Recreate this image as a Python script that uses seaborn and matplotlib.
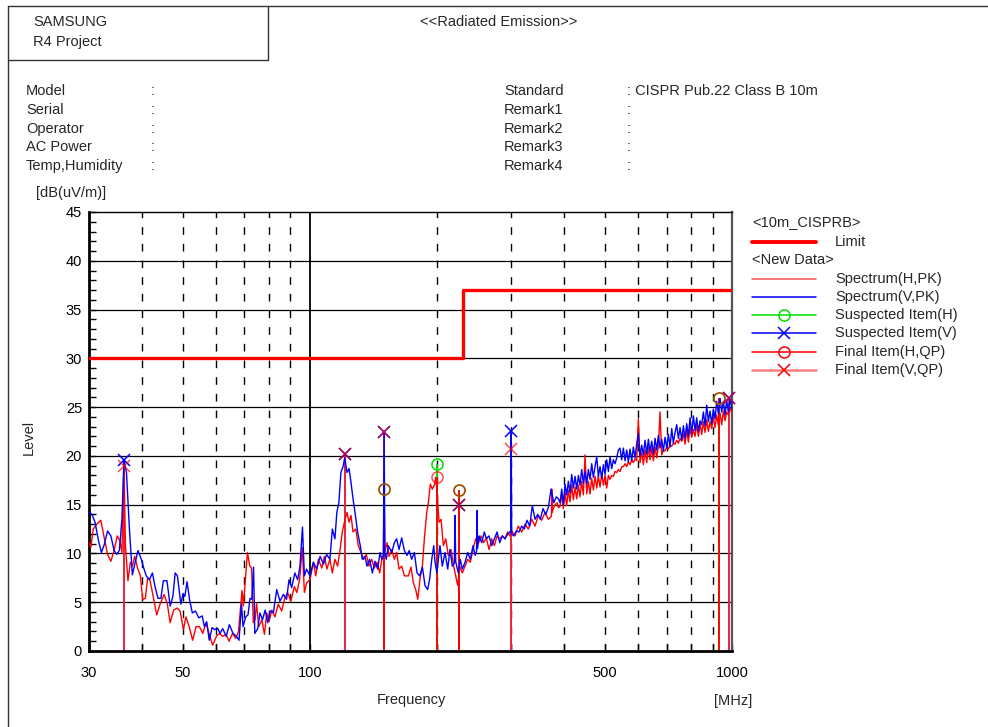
import matplotlib
matplotlib.use("Agg")
import matplotlib.pyplot as plt
from matplotlib.lines import Line2D
from matplotlib.ticker import FixedLocator, FixedFormatter, MultipleLocator, NullFormatter
import pandas as pd
import seaborn as sns

# ---------------- data ----------------
# low band (30-390 MHz) spectrum, vertical polarisation (blue)
v_lo_freq = [30.0, 30.5, 31.0, 31.6, 32.1, 32.6, 33.2, 33.8, 34.4, 34.9,
             35.4, 35.9, 36.3, 36.8, 37.4, 38.0, 38.6, 39.2, 39.9, 40.5,
             41.0, 41.7, 42.4, 43.0, 43.7, 44.4, 45.0, 45.9, 46.7, 47.4,
             48.0, 48.6, 49.5, 50.1, 50.6, 51.2, 51.9, 52.7, 53.6, 54.6,
             55.6, 56.3, 57.0, 57.8, 58.7, 59.5, 60.6, 61.3, 62.2, 63.4,
             64.5, 65.8, 67.0, 68.0, 68.9, 69.5, 70.5, 71.4, 72.2, 72.9,
             73.6, 74.1, 75.3, 76.2, 77.3, 78.4, 79.5, 80.5, 82.0, 83.5,
             85.0, 86.6, 88.1, 89.3, 90.6, 92.2, 93.6, 94.8, 96.1, 97.1,
             98.3, 100.1, 102.0, 103.8, 105.8, 107.8, 109.6, 111.6, 113.1, 114.7,
             115.9, 117.2, 118.5, 119.9, 121.0, 122.5, 123.9, 125.2, 126.6, 128.0,
             129.8, 131.7, 133.2, 135.1, 136.6, 138.6, 140.7, 142.7, 144.8, 146.7,
             148.1, 149.4, 150.0, 150.6, 151.8, 153.5, 156.4, 158.6, 160.6, 162.7,
             165.1, 167.5, 170.0, 172.0, 174.3, 176.9, 179.5, 182.1, 184.8, 187.5,
             190.2, 192.3, 194.5, 196.6, 198.0, 200.0, 201.6, 203.4, 206.0, 209.1,
             212.2, 214.8, 217.6, 220.0, 220.8, 221.6, 222.8, 224.8, 227.2, 229.7,
             233.2, 236.7, 240.0, 243.6, 246.3, 248.3, 249.0, 249.7, 251.7, 255.4,
             259.1, 261.9, 265.8, 269.7, 273.6, 277.7, 281.8, 285.8, 290.0, 294.3,
             299.3, 300.0, 300.7, 304.1, 308.5, 313.0, 317.6, 322.2, 327.0, 331.8,
             336.6, 341.6, 346.6, 351.6, 356.8, 362.1, 367.3, 372.8, 378.3, 383.7,
             388.0]
v_lo_level = [14.2, 14.0, 13.2, 11.3, 10.1, 10.9, 12.3, 11.8, 10.3, 9.9,
              10.3, 13.5, 19.6, 18.3, 12.5, 7.8, 9.1, 10.3, 9.4, 8.4,
              7.7, 7.3, 8.0, 6.6, 5.4, 5.4, 7.2, 7.2, 4.6, 5.6,
              8.0, 7.7, 4.8, 5.9, 5.6, 7.1, 5.3, 3.9, 4.1, 3.4,
              3.6, 2.5, 3.0, 1.1, 2.4, 2.2, 2.3, 1.8, 2.3, 1.5,
              2.7, 1.8, 1.5, 1.1, 4.8, 2.5, 3.5, 3.7, 5.4, 5.3,
              8.6, 1.8, 2.3, 3.9, 3.2, 4.2, 2.9, 4.1, 3.9, 6.3,
              5.1, 5.8, 5.3, 7.3, 6.5, 8.0, 7.3, 8.7, 12.7, 7.7,
              8.4, 7.7, 9.1, 8.4, 9.7, 8.9, 9.9, 9.4, 12.5, 11.5,
              14.2, 15.2, 18.3, 18.9, 19.8, 18.3, 18.7, 17.3, 15.6, 14.2,
              12.2, 10.8, 9.4, 9.7, 8.7, 9.4, 8.0, 9.2, 8.4, 10.1,
              9.4, 9.8, 22.5, 10.0, 9.4, 10.8, 10.1, 11.1, 11.5, 10.4,
              11.6, 10.3, 9.8, 10.3, 9.4, 10.1, 8.0, 7.7, 8.6, 6.7,
              6.3, 7.4, 9.4, 10.8, 9.1, 8.0, 9.4, 10.8, 8.7, 10.1,
              8.4, 10.4, 8.7, 9.0, 13.9, 9.2, 8.7, 8.0, 9.4, 8.4,
              9.1, 10.1, 9.4, 10.8, 9.8, 10.2, 14.4, 10.5, 11.8, 11.1,
              12.2, 11.5, 11.8, 10.8, 11.5, 12.2, 11.1, 11.8, 11.5, 12.0,
              12.3, 22.6, 12.0, 11.8, 12.3, 12.2, 12.8, 12.5, 13.4, 12.8,
              14.9, 13.5, 14.0, 13.5, 14.6, 14.0, 14.7, 16.6, 15.2, 15.8,
              15.6]

# low band spectrum, horizontal polarisation (red)
h_lo_freq = [30.0, 30.3, 30.7, 31.3, 32.0, 32.6, 33.2, 33.8, 34.4, 35.0,
             35.5, 35.9, 36.3, 36.6, 37.1, 37.6, 38.0, 38.5, 39.1, 39.7,
             40.2, 40.8, 41.3, 41.8, 42.4, 43.4, 44.2, 45.2, 46.0, 46.7,
             47.6, 48.5, 49.3, 50.2, 50.9, 51.8, 52.8, 53.8, 54.8, 55.8,
             56.8, 57.8, 58.9, 60.1, 61.1, 62.2, 63.3, 64.4, 65.6, 66.8,
             67.8, 69.1, 69.6, 70.5, 71.2, 72.1, 72.8, 73.5, 74.2, 74.8,
             75.7, 77.0, 78.1, 79.1, 80.1, 81.3, 82.7, 84.2, 85.8, 87.1,
             88.6, 90.2, 91.9, 93.2, 94.6, 96.0, 97.1, 98.3, 100.1, 102.0,
             103.3, 104.8, 106.8, 108.3, 109.8, 111.6, 113.1, 114.7, 116.4, 117.9,
             119.4, 121.2, 122.5, 123.9, 125.2, 126.6, 128.5, 130.3, 132.2, 134.1,
             136.1, 138.1, 140.2, 142.2, 144.3, 146.4, 148.1, 149.4, 150.0, 150.6,
             152.4, 154.1, 156.4, 158.6, 160.6, 162.7, 165.1, 167.5, 171.2, 173.7,
             175.9, 178.2, 180.2, 182.4, 184.8, 186.8, 189.2, 190.9, 193.0, 195.1,
             197.3, 198.8, 200.5, 202.4, 204.6, 207.2, 209.9, 212.9, 216.0, 219.2,
             221.7, 224.1, 226.5, 229.7, 233.2, 236.7, 240.0, 243.6, 247.1, 250.7,
             254.5, 258.2, 261.9, 265.8, 269.7, 273.6, 277.7, 281.8, 285.8, 290.0,
             294.3, 297.5, 300.8, 306.3, 311.8, 317.6, 323.4, 329.4, 335.5, 341.6,
             347.8, 354.1, 360.8, 367.3, 373.5, 374.2, 374.9, 379.8, 385.2, 388.0]
h_lo_level = [11.1, 10.6, 12.5, 13.0, 13.4, 11.6, 9.9, 9.2, 10.3, 11.8,
              11.3, 10.1, 19.0, 10.8, 7.2, 9.1, 8.7, 9.7, 8.5, 7.7,
              5.3, 5.4, 7.5, 7.3, 6.0, 3.7, 4.8, 5.8, 4.8, 2.9,
              4.2, 4.4, 4.1, 2.2, 3.5, 2.5, 1.1, 2.5, 2.5, 1.8,
              2.9, 1.7, 0.6, 1.5, 1.8, 1.5, 1.7, 1.0, 1.8, 1.3,
              2.0, 6.2, 4.6, 7.7, 10.1, 8.7, 8.5, 2.9, 3.2, 4.9,
              2.5, 3.2, 1.7, 3.9, 3.0, 4.2, 3.5, 4.8, 4.1, 5.3,
              6.0, 5.1, 6.6, 6.0, 7.3, 10.6, 6.0, 7.0, 7.3, 9.1,
              7.7, 9.4, 8.5, 9.7, 8.4, 9.4, 8.0, 9.4, 8.7, 10.3,
              12.2, 13.5, 14.2, 13.2, 13.9, 12.2, 12.5, 10.8, 10.1, 9.4,
              9.9, 8.7, 9.4, 8.5, 9.1, 8.0, 9.4, 9.6, 16.6, 10.2,
              11.1, 9.7, 10.4, 9.4, 10.1, 8.4, 8.7, 7.7, 7.7, 8.6,
              7.0, 6.3, 5.3, 7.4, 8.7, 11.5, 14.2, 15.2, 17.1, 16.6,
              17.0, 17.8, 15.9, 13.2, 13.5, 10.8, 11.5, 9.8, 10.4, 8.7,
              7.7, 6.7, 8.7, 8.0, 8.7, 9.4, 9.1, 10.4, 11.5, 11.0,
              11.8, 11.1, 11.6, 10.4, 11.5, 10.8, 11.8, 11.5, 11.8, 11.5,
              12.2, 11.8, 12.3, 11.8, 12.8, 12.2, 13.0, 12.5, 13.5, 12.8,
              13.9, 13.4, 14.2, 13.5, 13.8, 16.6, 14.2, 14.9, 15.2, 14.7]

# high band (390-1000 MHz), common sweep points
hi_freq = [391.5, 395.1, 398.7, 402.3, 406.0, 409.7, 413.4, 417.2, 421.0, 424.9,
           428.7, 432.7, 436.6, 440.6, 444.6, 448.7, 452.8, 456.9, 461.1, 465.3,
           469.5, 473.8, 478.2, 482.5, 486.9, 491.4, 495.9, 500.4, 505.0, 509.6,
           514.2, 518.9, 523.7, 528.5, 533.3, 538.1, 543.0, 548.0, 553.0, 558.1,
           563.1, 568.3, 573.5, 578.7, 584.0, 589.3, 594.7, 600.1, 605.6, 611.2,
           616.7, 622.4, 628.1, 633.8, 639.6, 645.4, 651.3, 657.3, 663.3, 669.3,
           675.4, 681.6, 687.8, 694.1, 700.5, 706.8, 713.3, 719.8, 726.4, 733.0,
           739.7, 746.4, 753.3, 760.1, 767.1, 774.1, 781.2, 788.3, 795.5, 802.8,
           810.1, 817.5, 824.9, 832.5, 840.1, 847.7, 855.5, 863.3, 871.2, 879.1,
           887.1, 895.2, 903.4, 911.7, 920.0, 928.4, 936.9, 945.4, 954.1, 962.8,
           971.5, 980.4, 989.4, 1000.0]
v_hi_level = [15.2, 16.6, 15.0, 17.1, 16.0, 17.4, 16.2, 18.1, 16.7, 17.9,
              16.6, 18.0, 17.0, 18.6, 17.2, 18.4, 17.1, 18.6, 17.6, 19.2,
              17.8, 18.9, 19.9, 17.9, 18.9, 17.7, 19.1, 18.1, 19.6, 18.4,
              19.9, 18.7, 19.6, 19.2, 19.8, 20.6, 20.8, 19.6, 20.8, 19.5,
              20.6, 19.4, 20.7, 19.5, 20.9, 19.8, 21.2, 22.3, 20.0, 21.1,
              20.1, 21.6, 20.2, 21.7, 20.4, 21.5, 20.2, 21.8, 20.6, 22.1,
              20.8, 21.7, 20.5, 21.9, 20.8, 22.2, 20.9, 22.8, 21.3, 22.4,
              23.2, 21.8, 22.9, 21.6, 23.1, 21.8, 23.3, 22.0, 23.9, 22.3,
              24.1, 22.6, 23.9, 22.5, 23.6, 23.2, 24.5, 23.1, 25.2, 23.5,
              24.6, 23.3, 24.8, 23.8, 25.6, 24.3, 25.9, 24.5, 25.6, 24.2,
              25.7, 24.5, 25.8, 24.8]
h_hi_level = [14.8, 16.1, 14.6, 16.3, 14.9, 16.5, 15.3, 17.0, 15.5, 16.8,
              15.6, 17.0, 15.8, 17.4, 16.0, 20.1, 16.1, 17.4, 16.1, 17.7,
              16.5, 17.9, 16.7, 18.0, 16.8, 18.2, 17.0, 18.0, 16.7, 18.0,
              17.6, 18.0, 17.9, 18.4, 18.3, 18.6, 18.4, 18.9, 18.9, 19.2,
              18.9, 19.4, 19.1, 19.6, 19.3, 19.7, 19.5, 23.8, 19.3, 20.4,
              19.1, 20.6, 19.3, 20.9, 19.6, 20.8, 19.5, 20.9, 19.8, 21.0,
              24.5, 20.1, 20.6, 20.5, 20.9, 20.7, 21.1, 21.0, 21.3, 21.2,
              21.6, 21.3, 21.8, 21.5, 22.3, 21.2, 22.7, 21.4, 22.9, 21.9,
              22.7, 22.0, 23.2, 22.0, 23.3, 22.2, 23.5, 22.4, 23.7, 22.5,
              23.5, 22.8, 24.0, 22.9, 24.2, 23.1, 24.4, 23.2, 24.6, 23.6,
              24.5, 24.2, 24.9, 24.4]

# limit line (CISPR 22 class B, 10 m)
limit_freq = [30, 230, 1000]
limit_level = [30, 37, 37]

# measured items
susp_h_freq = [150.0, 200.0, 225.7, 933.0]
susp_h_level = [16.6, 19.2, 16.5, 25.9]
susp_v_freq = [36.3, 121.0, 150.0, 225.7, 300.0, 986.0]
susp_v_level = [19.6, 20.2, 22.5, 15.0, 22.6, 25.9]
final_h_freq = [150.0, 200.0, 225.7, 933.0]
final_h_level = [16.6, 17.8, 16.5, 25.9]
final_v_freq = [36.3, 121.0, 150.0, 225.7, 300.0, 986.0]
final_v_level = [19.0, 20.2, 22.5, 15.0, 20.7, 25.9]

x_major = [30, 50, 100, 500, 1000]
x_major_labels = ["30", "50", "100", "500", "1000"]
x_minor = [40, 60, 70, 80, 90, 200, 300, 400, 600, 700, 800, 900]
grid_dashed = [40, 50, 60, 70, 80, 90, 200, 300, 400, 500, 600, 700, 800, 900]
grid_solid = [100]
y_grid = [5, 10, 15, 20, 25, 30, 35, 40]

assert len(v_lo_freq) == len(v_lo_level)
assert len(h_lo_freq) == len(h_lo_level)
assert len(hi_freq) == len(v_hi_level) == len(h_hi_level)

# ---------------- style ----------------
sns.set_style("white")
plt.rcParams['font.family'] = ['Liberation Sans', 'DejaVu Sans']
FS = 10.5

RED = '#ff0000'
BLUE = '#0000ff'
GREEN = '#00dd00'
STEM_V = '#ff2a2a'

W, H = 988, 727
fig = plt.figure(figsize=(W / 100, H / 100), dpi=100)
ax = fig.add_axes([89 / W, 1 - 651 / H, (732 - 89) / W, (651 - 212) / H])


def fx(x):
    return x / W


def fy(y):
    return 1 - y / H


df = pd.concat([
    pd.DataFrame({'Frequency': h_lo_freq + hi_freq,
                  'Level': h_lo_level + h_hi_level,
                  'Series': 'Spectrum(H,PK)'}),
    pd.DataFrame({'Frequency': v_lo_freq + hi_freq,
                  'Level': v_lo_level + v_hi_level,
                  'Series': 'Spectrum(V,PK)'}),
], ignore_index=True)

# grid
for f in grid_dashed:
    ax.axvline(f, color='black', lw=1.0, dashes=(5.5, 6.5), zorder=1)
for f in grid_solid:
    ax.axvline(f, color='black', lw=1.3, zorder=1)
for y in y_grid:
    ax.axhline(y, color='black', lw=0.9, zorder=1)

# stems of measured items (final items drawn over suspected ones)
ax.vlines(susp_v_freq, 0, susp_v_level, color=BLUE, lw=1.3, zorder=2)
ax.vlines(susp_h_freq, 0, susp_h_level, color=GREEN, lw=1.3, zorder=2)
ax.vlines(final_v_freq, 0, final_v_level, color=STEM_V, lw=1.3, zorder=2.1)
ax.vlines(final_h_freq, 0, final_h_level, color=RED, lw=1.3, zorder=2.2)

sns.lineplot(data=df, x='Frequency', y='Level', hue='Series',
             palette={'Spectrum(H,PK)': RED, 'Spectrum(V,PK)': BLUE},
             estimator=None, sort=False, legend=False, linewidth=1.0,
             ax=ax, zorder=3)

ax.plot(limit_freq, limit_level, drawstyle='steps-post', color=RED, lw=2.4, zorder=4)

# markers
ax.plot(susp_h_freq, susp_h_level, ls='none', marker='o', ms=8, mfc='none',
        mec=GREEN, mew=1.1, zorder=5, clip_on=False)
ax.plot(susp_v_freq, susp_v_level, ls='none', marker='x', ms=8,
        mec=BLUE, mew=1.1, zorder=5, clip_on=False)
ax.plot(final_h_freq, final_h_level, ls='none', marker='o', ms=8, mfc='none',
        mec=RED, mew=1.1, alpha=0.7, zorder=6, clip_on=False)
ax.plot(final_v_freq, final_v_level, ls='none', marker='x', ms=8,
        mec=RED, mew=1.1, alpha=0.7, zorder=6, clip_on=False)

# axes
ax.set_xscale('log')
ax.set_xlim(30, 1000)
ax.set_ylim(0, 45)
ax.xaxis.set_major_locator(FixedLocator(x_major))
ax.xaxis.set_major_formatter(FixedFormatter(x_major_labels))
ax.xaxis.set_minor_locator(FixedLocator(x_minor))
ax.xaxis.set_minor_formatter(NullFormatter())
ax.yaxis.set_major_locator(MultipleLocator(5))
ax.yaxis.set_minor_locator(MultipleLocator(1))
ax.tick_params(axis='x', which='both', direction='in', length=5, width=1,
               bottom=True, top=False, labelsize=FS, pad=11, colors='black')
ax.tick_params(axis='y', which='both', direction='in', length=5, width=1,
               left=True, right=False, labelsize=FS, pad=5, colors='black')
for side in ['left', 'bottom']:
    ax.spines[side].set_linewidth(2.0)
    ax.spines[side].set_color('black')
ax.spines['top'].set_linewidth(1.0)
ax.spines['top'].set_color('black')
ax.spines['right'].set_linewidth(1.6)
ax.spines['right'].set_color('#555555')
ax.set_xlabel('Frequency', fontsize=FS)
ax.set_ylabel('Level', fontsize=FS)
ax.xaxis.set_label_coords(0.5008, -0.096)
ax.yaxis.set_label_coords(-0.083, 0.487)

# ---------------- page decoration ----------------
def fline(xs, ys, **kw):
    fig.add_artist(Line2D([fx(v) for v in xs], [fy(v) for v in ys],
                          transform=fig.transFigure, **kw))


fline([8, 988], [5.5, 5.5], color='#333333', lw=1.0)
fline([8, 8], [5.5, 727], color='#333333', lw=1.0)
fline([268, 268], [5.5, 59.5], color='#333333', lw=1.0)
fline([8, 268], [59.5, 59.5], color='#333333', lw=1.0)


def ftext(x, y, s, **kw):
    fig.text(fx(x), fy(y), s, fontsize=FS, va='center', ha='left', **kw)


ftext(33, 22, 'SAMSUNG')
ftext(33, 42, 'R4 Project')
ftext(420, 22, '<<Radiated Emission>>')

left_items = ['Model', 'Serial', 'Operator', 'AC Power', 'Temp,Humidity']
right_items = ['Standard', 'Remark1', 'Remark2', 'Remark3', 'Remark4']
right_values = [': CISPR Pub.22 Class B 10m', ':', ':', ':', ':']
rows_y = [91, 110, 129, 147, 166]
for name, yy in zip(left_items, rows_y):
    ftext(26, yy, name)
    ftext(151, yy, ':')
for name, val, yy in zip(right_items, right_values, rows_y):
    ftext(504, yy, name)
    ftext(627, yy, val)

ftext(36, 193, '[dB(uV/m)]')
fig.text(fx(733), fy(701), '[MHz]', fontsize=FS, ha='center', va='center')

# legend panel
ftext(752, 222, '<10m_CISPRB>')
fline([752, 816], [242, 242], color=RED, lw=2.8)
ftext(835, 242, 'Limit')
ftext(752, 260, '<New Data>')

legend_rows = [
    ('Spectrum(H,PK)', '#ff5050', None, None),
    ('Spectrum(V,PK)', BLUE, None, None),
    ('Suspected Item(H)', GREEN, 'o', GREEN),
    ('Suspected Item(V)', BLUE, 'x', BLUE),
    ('Final Item(H,QP)', RED, 'o', RED),
    ('Final Item(V,QP)', '#ff8080', 'x', RED),
]
legend_y = [279, 297, 315, 333, 352, 370]
for (label, lc, mk, mc), yy in zip(legend_rows, legend_y):
    lw = 1.8 if label == 'Final Item(V,QP)' else 1.1
    fline([752, 816], [yy, yy], color=lc, lw=lw)
    if mk is not None:
        fig.add_artist(Line2D([fx(784)], [fy(yy)], transform=fig.transFigure,
                              ls='none', marker=mk, ms=8, mfc='none',
                              mec=mc, mew=1.1))
    ftext(835, yy, label)

fig.savefig('out.png', dpi=100)
